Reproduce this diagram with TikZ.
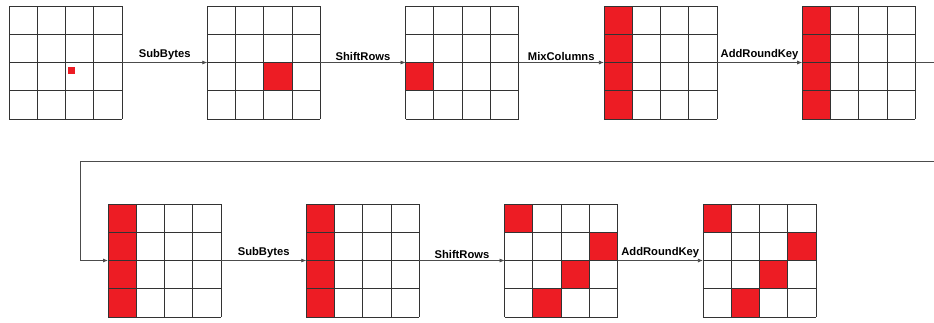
\documentclass[tikz,border=0pt]{standalone}
\usepackage{fontspec}
\setmainfont{Liberation Sans}
\usetikzlibrary{arrows.meta}
\definecolor{aesred}{HTML}{ED1C24}
\tikzset{
  state/.style={minimum size=113pt,inner sep=0pt,outer sep=0pt,anchor=north west},
  gridline/.style={draw=black!80,line width=0.75pt},
  flow/.style={draw=black!70,line width=0.75pt,-{Latex[length=5pt,width=4pt]}},
  stepname/.style={font=\bfseries\fontsize{11.2}{13}\selectfont,above,inner sep=2pt}
}
% 4x4 grid lines of a state matrix
\newcommand\stategrid[1]{%
  \begin{scope}[shift={(#1.north west)}]
    \foreach \k in {0,...,4} {
      \draw[gridline] ({\k*28.25},0) -- ++(0,113);
      \draw[gridline] (0,{\k*28.25}) -- ++(113,0);
    }
  \end{scope}}
% red byte at column/row of a state matrix
\newcommand\statebyte[3]{%
  \begin{scope}[shift={(#1.north west)}]
    \fill[aesred] ({(#2-1)*28.25},{(#3-1)*28.25}) rectangle ++(28.25,28.25);
  \end{scope}}
\begin{document}
\begin{tikzpicture}[x=1pt,y=-1pt]
  \useasboundingbox (0,0) rectangle (934,322);
  % first row
  \node[state] (g1) at (9,6) {};
  \node[state] (g2) at (207.3,6) {};
  \node[state] (g3) at (405.6,6) {};
  \node[state] (g4) at (603.9,6) {};
  \node[state] (g5) at (802.2,6) {};
  % second row
  \node[state] (g6) at (108,204) {};
  \node[state] (g7) at (306.3,204) {};
  \node[state] (g8) at (504.6,204) {};
  \node[state] (g9) at (702.9,204) {};
  % red bytes
  \begin{scope}[shift={(g1.north west)}]
    \fill[aesred] (59,61) rectangle ++(7,7);
  \end{scope}
  \statebyte{g2}{3}{3}
  \statebyte{g3}{1}{3}
  \foreach \g in {g4,g5,g6,g7} {
    \foreach \r in {1,...,4} \statebyte{\g}{1}{\r};
  }
  \foreach \g in {g8,g9} {
    \foreach \c/\r in {1/1,4/2,3/3,2/4} \statebyte{\g}{\c}{\r};
  }
  \foreach \g in {g1,g2,g3,g4,g5,g6,g7,g8,g9} \stategrid{\g};
  % connectors
  \draw[flow] (g1.east) -- node[stepname] {SubBytes} (g2.west);
  \draw[flow] (g2.east) -- node[stepname] {ShiftRows} (g3.west);
  \draw[flow] (g3.east) -- node[stepname] {MixColumns} (g4.west);
  \draw[flow] (g4.east) -- node[stepname] {AddRoundKey} (g5.west);
  \coordinate (rimtop) at (934,62.5);
  \coordinate (rimlow) at (934,161);
  \coordinate (bend) at (80,161);
  \draw[flow,-] (g5.east) -- (rimtop);
  \draw[flow] (rimlow) -- (bend) |- (g6.west);
  \draw[flow] (g6.east) -- node[stepname] {SubBytes} (g7.west);
  \draw[flow] (g7.east) -- node[stepname] {ShiftRows} (g8.west);
  \draw[flow] (g8.east) -- node[stepname] {AddRoundKey} (g9.west);
\end{tikzpicture}
\end{document}
